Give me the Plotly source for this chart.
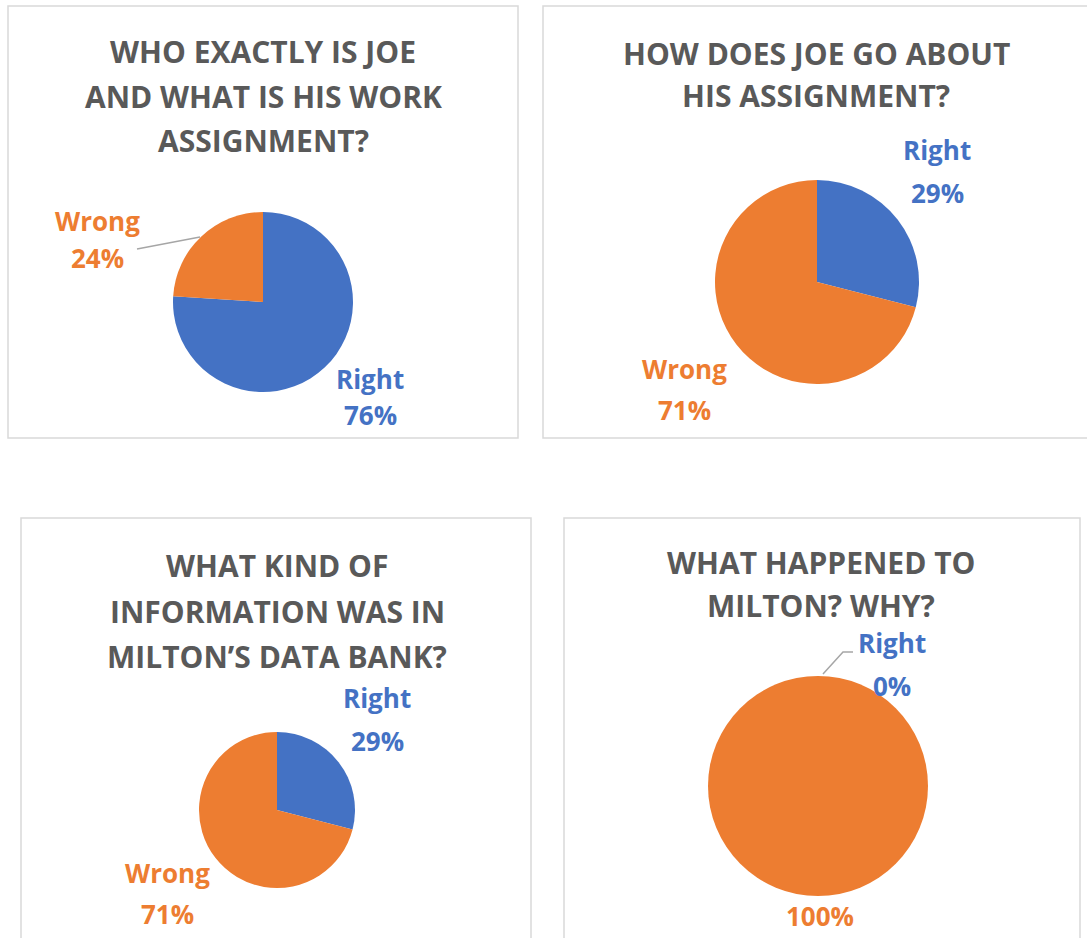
import plotly.graph_objects as go

W, H = 1087, 938

# Survey answers per question (percent of responses)
categories = ["Right", "Wrong"]
q1_values = [76, 24]
q2_values = [29, 71]
q3_values = [29, 71]
q4_values = [0, 100]

q1_title = ["WHO EXACTLY IS JOE", "AND WHAT IS HIS WORK", "ASSIGNMENT?"]
q2_title = ["HOW DOES JOE GO ABOUT", "HIS ASSIGNMENT?"]
q3_title = ["WHAT KIND OF", "INFORMATION WAS IN", "MILTON\u2019S DATA BANK?"]
q4_title = ["WHAT HAPPENED TO", "MILTON? WHY?"]

BLUE = "#4472C4"
ORANGE = "#ED7D31"
TITLE_GRAY = "#595959"
BORDER = "#D9D9D9"
FONT = "Open Sans"


def px(x):
    return x / W


def py(y):
    return 1 - y / H


def domain(cx, cy, r):
    return dict(x=[px(cx - r), px(cx + r)], y=[py(cy + r), py(cy - r)])


fig = go.Figure()

# panel layout: frame box, pie centre/radius, title line positions, label positions
panels = [
    dict(values=q1_values, title=q1_title, box=(8, 6, 518, 438),
         pie=(263, 302, 90), tx=263, ty=[52, 96, 140],
         labels={"Right": (370, 379, 415), "Wrong": (97, 221, 258)}),
    dict(values=q2_values, title=q2_title, box=(543, 6, 1095, 438),
         pie=(817, 282, 102), tx=816, ty=[53, 95],
         labels={"Right": (937, 150, 193), "Wrong": (684, 369, 410)}),
    dict(values=q3_values, title=q3_title, box=(21, 518, 531, 950),
         pie=(277, 810, 78), tx=277, ty=[565, 611, 656],
         labels={"Right": (377, 698, 741), "Wrong": (167, 873, 914)}),
    dict(values=q4_values, title=q4_title, box=(564, 518, 1080, 950),
         pie=(818, 786, 110), tx=821, ty=[562, 605],
         labels={"Right": (892, 643, 686), "Wrong": (820, None, 916)}),
]

shapes = []
annotations = []

for p in panels:
    x0, y0, x1, y1 = p["box"]
    shapes.append(dict(type="rect", xref="paper", yref="paper",
                       x0=px(x0), x1=px(x1), y0=py(y1), y1=py(y0),
                       line=dict(color=BORDER, width=1.5), fillcolor="rgba(0,0,0,0)",
                       layer="below"))
    cx, cy, r = p["pie"]
    fig.add_trace(go.Pie(
        labels=categories, values=p["values"], sort=False,
        direction="clockwise", rotation=0,
        marker=dict(colors=[BLUE, ORANGE], line=dict(width=0)),
        textinfo="none", hoverinfo="label+percent",
        domain=domain(cx, cy, r), showlegend=False,
    ))
    for line, yy in zip(p["title"], p["ty"]):
        annotations.append(dict(text=line, x=px(p["tx"]), y=py(yy), xref="paper", yref="paper",
                                showarrow=False, xanchor="center", yanchor="middle",
                                font=dict(family=FONT, size=30, color=TITLE_GRAY, weight="bold")))
    for cat, val in zip(categories, p["values"]):
        lx, ly_name, ly_val = p["labels"][cat]
        col = BLUE if cat == "Right" else ORANGE
        if ly_name is not None:
            annotations.append(dict(text=cat, x=px(lx), y=py(ly_name), xref="paper", yref="paper",
                                    showarrow=False, xanchor="center", yanchor="middle",
                                    font=dict(family=FONT, size=26, color=col, weight="bold")))
        annotations.append(dict(text=f"{val}%", x=px(lx), y=py(ly_val), xref="paper", yref="paper",
                                showarrow=False, xanchor="center", yanchor="middle",
                                font=dict(family=FONT, size=26, color=col, weight="bold")))

# leader lines from outside labels to their slices
leaders = [
    [(137, 249), (200, 237)],
    [(823, 674), (843, 652), (853, 652)],
]
for pts in leaders:
    path = "M " + " L ".join(f"{px(x)},{py(y)}" for x, y in pts)
    shapes.append(dict(type="path", xref="paper", yref="paper", path=path,
                       line=dict(color="#A6A6A6", width=1.5)))

fig.update_layout(
    width=W, height=H, autosize=False,
    margin=dict(l=0, r=0, t=0, b=0),
    paper_bgcolor="white", plot_bgcolor="white",
    shapes=shapes, annotations=annotations,
)

fig.write_html("out.html")
